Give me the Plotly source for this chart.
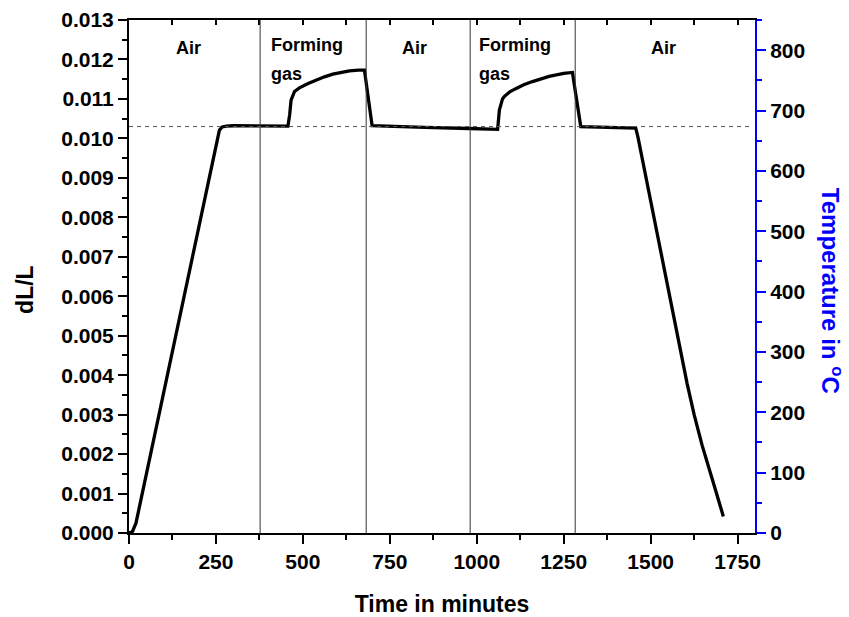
import plotly.graph_objects as go

# ---- data ----
time_min = [0, 10, 20, 60, 138, 200, 260, 268, 280, 300, 350, 400, 457,
            462, 466, 476, 490, 515, 538, 562, 586, 610, 634, 660, 677,
            699, 750, 850, 978, 1020, 1060, 1065, 1074, 1079, 1095, 1112,
            1135, 1160, 1185, 1208, 1250, 1275, 1299, 1350, 1400, 1457,
            1463, 1505, 1534, 1558, 1580, 1605, 1625, 1648, 1680, 1709]
dL_L = [0.0, 0.00004, 0.00025, 0.00191, 0.00515, 0.00773, 0.01021,
        0.01029, 0.01031, 0.01032, 0.01032, 0.01032, 0.01031,
        0.01060, 0.01097, 0.01119, 0.01128, 0.01139, 0.01148, 0.01156,
        0.01163, 0.01168, 0.01171, 0.01173, 0.01173,
        0.01032, 0.01030, 0.01028, 0.01025, 0.01024, 0.01023, 0.01072,
        0.01100, 0.01106, 0.01118, 0.01126, 0.01136, 0.01144, 0.01151,
        0.01157, 0.01165, 0.01167, 0.01030, 0.01029, 0.01028, 0.01026,
        0.01005, 0.00822, 0.00692, 0.00583, 0.00485, 0.00378, 0.00300,
        0.00222, 0.00128, 0.00042]

switch_times = [377, 682, 981, 1283]
baseline_dL = 0.0103

atm_labels = ["Air", "Forming", "gas", "Air", "Forming", "gas", "Air"]
atm_x = [171, 402, 402, 821, 1000, 1000, 1537]
atm_y = [0.01228, 0.01237, 0.01162, 0.01228, 0.01237, 0.01162, 0.01228]
atm_anchor = ["center", "left", "left", "center", "left", "left", "center"]

x_range = [0, 1800]
y_range = [0, 0.013]
temp_range = [0, 850]

FONT = "Liberation Sans, Arial, sans-serif"

fig = go.Figure()
fig.add_trace(go.Scatter(x=time_min, y=dL_L, mode="lines",
                         line=dict(color="black", width=3.3),
                         showlegend=False, hoverinfo="skip"))
# empty trace to host the secondary (temperature / top) axes
fig.add_trace(go.Scatter(x=[None], y=[None], xaxis="x2", yaxis="y2",
                         mode="lines", showlegend=False, hoverinfo="skip"))

shapes = []
for t in switch_times:
    shapes.append(dict(type="line", xref="x", yref="y", x0=t, x1=t,
                       y0=y_range[0], y1=y_range[1],
                       line=dict(color="#333333", width=1)))
shapes.append(dict(type="line", xref="x", yref="y", x0=0, x1=1785,
                   y0=baseline_dL, y1=baseline_dL,
                   line=dict(color="#555555", width=1, dash="4px,4px")))

annotations = []
for txt, ax_, ay_, anc in zip(atm_labels, atm_x, atm_y, atm_anchor):
    annotations.append(dict(x=ax_, y=ay_, xref="x", yref="y", text=txt,
                            showarrow=False, xanchor=anc, yanchor="middle",
                            font=dict(family=FONT, size=18, color="black",
                                      weight="bold")))

# axis titles placed as rotated annotations (paper coords)
annotations.append(dict(x=-0.166, y=0.474, xref="paper", yref="paper",
                        text="dL/L", textangle=-90, showarrow=False,
                        xanchor="center", yanchor="middle",
                        font=dict(family=FONT, size=23, color="black",
                                  weight="bold")))
annotations.append(dict(x=1.123, y=0.472, xref="paper", yref="paper",
                        text="Temperature in <sup>o</sup>C", textangle=90,
                        showarrow=False, xanchor="center", yanchor="middle",
                        font=dict(family=FONT, size=24, color="blue",
                                  weight="bold")))

tickfont = dict(family=FONT, size=21, color="black", weight="bold")
titlefont = dict(family=FONT, size=23, color="black", weight="bold")

fig.update_layout(
    width=849, height=617,
    margin=dict(l=129, r=94, t=20, b=84, autoexpand=False),
    paper_bgcolor="white", plot_bgcolor="white",
    shapes=shapes, annotations=annotations,
    xaxis=dict(range=x_range, dtick=250, tick0=0, showgrid=False,
               automargin=False,
               zeroline=False, showline=True, linecolor="black", linewidth=2,
               ticks="outside", ticklen=9, tickwidth=2, tickcolor="black",
               minor=dict(dtick=125, ticks="outside", ticklen=5,
                          tickwidth=2, tickcolor="black"),
               tickfont=tickfont,
               title=dict(text="Time in minutes", font=titlefont, standoff=25)),
    yaxis=dict(range=y_range, dtick=0.001, tick0=0, tickformat=".3f",
               automargin=False,
               showgrid=False, zeroline=False, showline=True,
               linecolor="black", linewidth=2,
               ticks="outside", ticklen=9, tickwidth=2, tickcolor="black",
               minor=dict(dtick=0.0005, ticks="outside", ticklen=5,
                          tickwidth=2, tickcolor="black"),
               tickfont=tickfont),
    xaxis2=dict(range=x_range, overlaying="x", side="top", anchor="y2",
                automargin=False,
                dtick=125, tick0=0, showgrid=False, zeroline=False,
                showline=True, linecolor="black", linewidth=2,
                ticks="inside", ticklen=5, tickwidth=1.5, tickcolor="black",
                showticklabels=False),
    yaxis2=dict(range=temp_range, overlaying="y", side="right", anchor="x",
                automargin=False,
                dtick=100, tick0=0, showgrid=False, zeroline=False,
                showline=True, linecolor="blue", linewidth=2,
                ticks="outside", ticklen=9, tickwidth=2, tickcolor="blue",
                minor=dict(dtick=50, ticks="outside", ticklen=5,
                           tickwidth=2, tickcolor="blue"),
                tickfont=tickfont),
)

fig.write_html("out.html")
